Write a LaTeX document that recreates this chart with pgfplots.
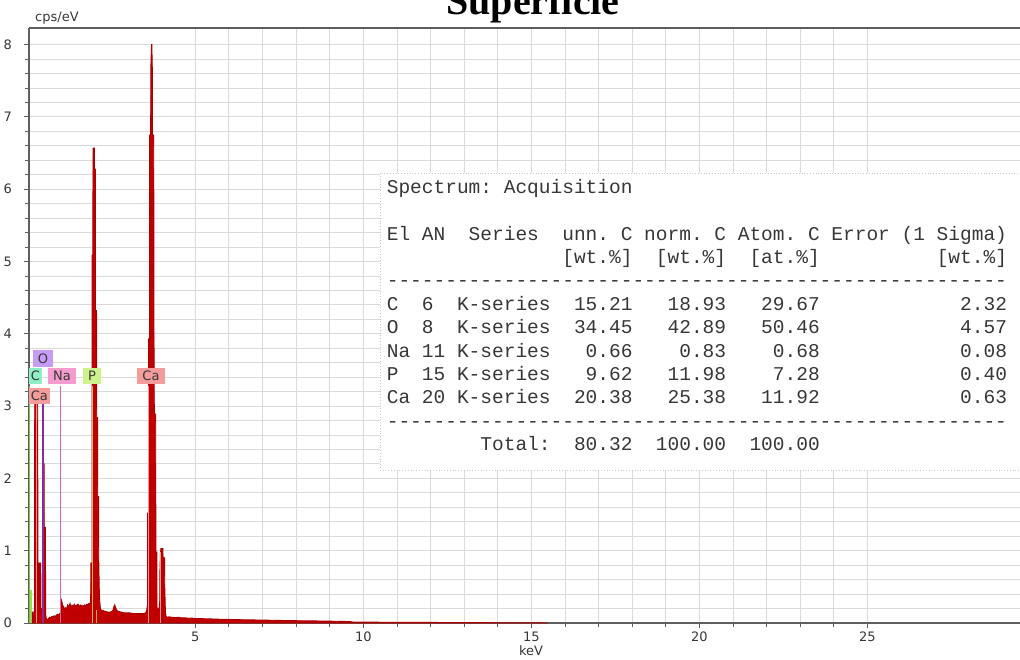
\documentclass[border=0pt]{standalone}
\usepackage{fontspec}
\setmainfont{DejaVu Sans}
\setmonofont{Liberation Mono}
\newfontfamily\titlefont{Liberation Serif}
\usepackage{pgfplots}
\pgfplotsset{compat=1.18}

\definecolor{specred}{RGB}{192,0,0}
\definecolor{specedge}{RGB}{170,0,0}
\definecolor{gridgray}{RGB}{218,218,218}
\definecolor{axisgray}{RGB}{95,95,95}
\definecolor{labelgray}{RGB}{55,55,55}
\definecolor{tabtext}{RGB}{55,55,55}
\definecolor{boxO}{RGB}{198,156,245}
\definecolor{boxC}{RGB}{142,238,196}
\definecolor{boxNa}{RGB}{244,156,206}
\definecolor{boxP}{RGB}{205,243,140}
\definecolor{boxCa}{RGB}{244,156,156}
\definecolor{lineC}{RGB}{110,200,60}
\definecolor{lineO}{RGB}{140,40,160}
\definecolor{lineNa}{RGB}{225,100,170}
\definecolor{lineP}{RGB}{200,190,60}
\definecolor{linePb}{RGB}{240,170,60}
\definecolor{lineCa}{RGB}{245,150,150}
\definecolor{fillC}{RGB}{160,220,80}

\newcommand{\tabline}[2]{\node[anchor=base west, inner sep=0pt, text=tabtext,
  font=\ttfamily\fontsize{19.5}{23}\selectfont] at (357.6pt,#1) {#2};}

\begin{document}
\begin{tikzpicture}
\begin{axis}[
  scale only axis, width=991pt, height=595pt,
  at={(0pt,0pt)}, anchor=south west,
  xmin=0.05, xmax=29.54, ymin=0, ymax=8.23,
  axis x line*=bottom, axis y line*=left,
  axis line style={draw=axisgray, line width=1.2pt},
  xtick={5,10,15,20,25}, minor x tick num=4,
  ytick={0,1,...,8}, minor y tick num=4,
  grid=both,
  major grid style={draw=gridgray, line width=0.9pt},
  minor grid style={draw=gridgray, line width=0.9pt},
  tick align=outside, major tick length=5pt, minor tick length=4pt,
  tick style={draw=axisgray, line width=0.9pt},
  /pgf/number format/assume math mode=true,
  tick label style={font=\fontsize{13}{15}\selectfont, text=labelgray, inner sep=0pt},
  yticklabel style={anchor=east, xshift=-12pt},
  xticklabel style={anchor=north, yshift=-4pt},
]
% C region highlight at the low-energy end
\addplot[fill=fillC, draw=none] coordinates {(0.05,0.46) (0.15,0.46)} \closedcycle;

% measured spectrum
\addplot[fill=specred, draw=specedge, line width=0.9pt] coordinates {
(0.15,0) (0.152,0.15) (0.19,0.15) (0.195,0.05) (0.215,0.05) (0.22,3.02) (0.31,3.02)
(0.315,0.3) (0.345,0.3) (0.35,0.83) (0.40,0.83) (0.405,0.2) (0.44,0.2) (0.445,0.12)
(0.46,0.12) (0.465,2.2) (0.50,2.2) (0.505,1.32) (0.54,1.32) (0.545,0.12) (0.57,0.05)
(0.60,0.05) (0.63,0.06) (0.66,0.08) (0.70,0.07) (0.73,0.09) (0.77,0.09) (0.80,0.10)
(0.83,0.09) (0.87,0.11) (0.90,0.12) (0.93,0.11) (0.96,0.13) (0.99,0.14) (1.00,0.2)
(1.02,0.31) (1.04,0.27) (1.06,0.22) (1.08,0.23) (1.11,0.19) (1.14,0.21) (1.17,0.20)
(1.20,0.25) (1.23,0.22) (1.27,0.27) (1.30,0.21) (1.33,0.25) (1.37,0.23) (1.40,0.26)
(1.44,0.23) (1.48,0.25) (1.51,0.26) (1.55,0.23) (1.59,0.25) (1.63,0.24) (1.66,0.23)
(1.70,0.25) (1.74,0.24) (1.77,0.26) (1.80,0.25) (1.83,0.27) (1.86,0.27) (1.885,0.29)
(1.89,0.83) (1.925,0.83) (1.93,5.09) (1.95,5.09) (1.955,6.57) (1.995,6.57) (2.0,6.28)
(2.025,6.28) (2.03,4.32) (2.06,4.32) (2.065,2.84) (2.09,2.84) (2.095,1.75) (2.12,1.75)
(2.125,0.9) (2.14,0.49) (2.155,0.3) (2.175,0.2) (2.20,0.18) (2.26,0.17) (2.32,0.16)
(2.40,0.15) (2.46,0.15) (2.52,0.16) (2.55,0.18) (2.58,0.23) (2.60,0.25) (2.63,0.21)
(2.67,0.17) (2.72,0.16) (2.80,0.15) (2.88,0.14) (2.96,0.14) (3.05,0.14) (3.15,0.13)
(3.25,0.13) (3.35,0.13) (3.45,0.13) (3.52,0.14) (3.55,0.17) (3.575,0.25) (3.58,1.52)
(3.605,1.52) (3.61,3.93) (3.635,3.93) (3.64,6.75) (3.67,6.75) (3.675,7.67) (3.695,8.0)
(3.705,8.0) (3.72,7.67) (3.725,6.75) (3.76,6.75) (3.765,5.74) (3.77,3.93) (3.78,2.89)
(3.82,2.89) (3.825,0.98) (3.855,0.98) (3.86,0.22) (3.88,0.18) (3.92,0.2) (3.94,0.3)
(3.945,0.7) (3.96,0.95) (3.975,1.03) (4.035,1.03) (4.04,0.9) (4.085,0.9) (4.09,0.5)
(4.11,0.15) (4.13,0.09) (4.16,0.08) (4.22,0.085) (4.3,0.08) (4.4,0.075) (4.5,0.08)
(4.6,0.07) (4.7,0.072) (4.8,0.065) (4.9,0.068) (5.0,0.062) (5.2,0.06) (5.4,0.057)
(5.6,0.055) (5.8,0.05) (6.0,0.05) (6.3,0.046) (6.6,0.044) (7.0,0.04) (7.3,0.038)
(7.6,0.035) (8.0,0.032) (8.4,0.03) (8.8,0.027) (9.2,0.024) (9.6,0.02) (9.7,0.012)
(10.2,0.012) (10.8,0.01) (11.4,0.009) (12.0,0.008) (12.6,0.007) (13.2,0.006)
(13.8,0.004) (14.4,0.003) (15.0,0.002) (15.5,0)
} \closedcycle;

% element marker lines
\addplot[draw=lineC, line width=1.2pt] coordinates {(0.07,0) (0.07,3.28)};
\addplot[draw=lineCa, line width=0.8pt] coordinates {(0.265,0) (0.265,3.05)};
\addplot[draw=lineO, line width=1.3pt] coordinates {(0.465,0) (0.465,3.05)};
\addplot[draw=lineNa, line width=1.2pt] coordinates {(0.99,0) (0.99,3.28)};
\addplot[draw=lineP, line width=1.2pt] coordinates {(1.935,0) (1.935,3.28)};
\addplot[draw=linePb, line width=1pt] coordinates {(2.07,0) (2.07,0.18)};
\addplot[draw=lineCa, line width=0.8pt] coordinates {(3.60,0) (3.60,3.28)};
\addplot[draw=lineCa, line width=0.8pt] coordinates {(3.95,0) (3.95,0.98)};

% element labels
\begin{scope}[every node/.style={inner sep=0pt, minimum height=16pt, text=labelgray,
  font=\fontsize{13}{15}\selectfont}]
\node[fill=boxO, minimum width=20pt, minimum height=17pt] at (axis cs:0.464,3.658) {O};
\node[fill=boxC, minimum width=13pt] at (axis cs:0.241,3.416) {C};
\node[fill=boxNa, minimum width=28pt] at (axis cs:1.03,3.416) {Na};
\node[fill=boxP, minimum width=18pt] at (axis cs:1.923,3.416) {P};
\node[fill=boxCa, minimum width=28pt] at (axis cs:3.679,3.416) {Ca};
\node[fill=boxCa, minimum width=22pt] at (axis cs:0.36,3.14) {Ca};
\end{scope}
\end{axis}

% upper frame line
\draw[axisgray, line width=1.6pt] (0pt,595pt) -- (1000pt,595pt);

% title and axis units
\node[anchor=base, inner sep=0pt, font=\titlefont\bfseries\fontsize{40}{44}\selectfont]
  at (504pt,608pt) {Superficie};
\node[anchor=base west, inner sep=0pt, text=labelgray, font=\fontsize{13}{15}\selectfont]
  at (6pt,601pt) {cps/eV};
\node[anchor=center, inner sep=0pt, text=labelgray, font=\fontsize{13}{15}\selectfont]
  at (502pt,-28pt) {keV};

% quantification results
\draw[gridgray!80!gray, dotted, line width=0.8pt, fill=white] (351pt,450pt) rectangle (1010pt,153pt);
\tabline{429.7pt}{Spectrum:~Acquisition}
\tabline{382.9pt}{El~AN~~Series~~unn.~C~norm.~C~Atom.~C~Error~(1~Sigma)}
\tabline{359.5pt}{~~~~~~~~~~~~~~~[wt.\%]~~[wt.\%]~~[at.\%]~~~~~~~~~~[wt.\%]}
\tabline{336.1pt}{-----------------------------------------------------}
\tabline{312.7pt}{C~~6~~K-series~~15.21~~~18.93~~~29.67~~~~~~~~~~~~2.32}
\tabline{289.3pt}{O~~8~~K-series~~34.45~~~42.89~~~50.46~~~~~~~~~~~~4.57}
\tabline{265.9pt}{Na~11~K-series~~~0.66~~~~0.83~~~~0.68~~~~~~~~~~~~0.08}
\tabline{242.5pt}{P~~15~K-series~~~9.62~~~11.98~~~~7.28~~~~~~~~~~~~0.40}
\tabline{219.1pt}{Ca~20~K-series~~20.38~~~25.38~~~11.92~~~~~~~~~~~~0.63}
\tabline{195.7pt}{-----------------------------------------------------}
\tabline{172.3pt}{~~~~~~~~Total:~~80.32~~100.00~~100.00}

\pgfresetboundingbox
\path[use as bounding box] (-29pt,-36pt) rectangle (991pt,623pt);
\end{tikzpicture}
\end{document}
